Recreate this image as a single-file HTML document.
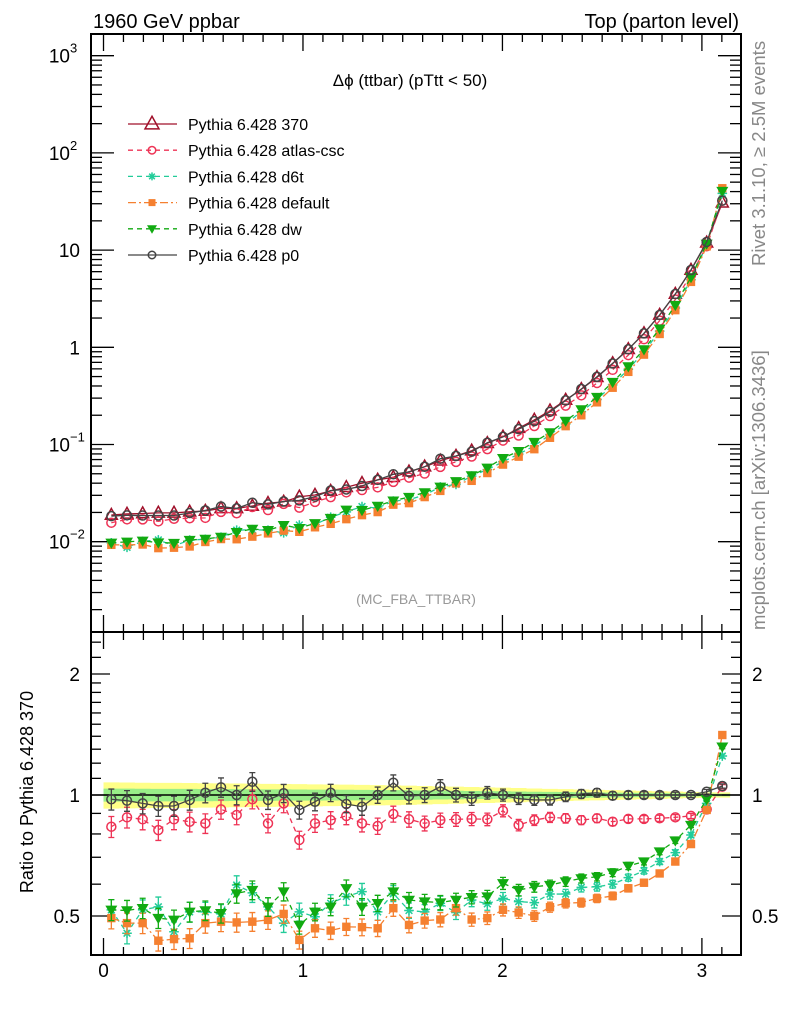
<!DOCTYPE html>
<html><head><meta charset="utf-8"><style>
body{margin:0;background:#fff;}
svg{display:block;font-family:"Liberation Sans",sans-serif;}
</style></head><body>
<svg id="chart" width="786" height="1024" viewBox="0 0 786 1024">
<text x="93" y="28" font-size="20">1960 GeV ppbar</text>
<text x="739" y="28" font-size="20" text-anchor="end">Top (parton level)</text>
<text x="410" y="86" font-size="17" text-anchor="middle">Δϕ (ttbar) (pTtt &lt; 50)</text>
<text x="416" y="604" font-size="14" fill="#999" text-anchor="middle">(MC_FBA_TTBAR)</text>
<text transform="translate(765,266) rotate(-90)" font-size="18.5" fill="#888">Rivet 3.1.10, ≥ 2.5M events</text>
<text transform="translate(765,630) rotate(-90)" font-size="18.5" fill="#888">mcplots.cern.ch [arXiv:1306.3436]</text>
<text transform="translate(33,792) rotate(-90)" font-size="18" text-anchor="middle">Ratio to Pythia 6.428 370</text>
<g id="band"></g>
<g id="ticks"></g>
<g id="series"></g>
<g id="legend"></g>
<rect x="91" y="34" width="650" height="598" fill="none" stroke="#000" stroke-width="2"/>
<rect x="91" y="632" width="650" height="323" fill="none" stroke="#000" stroke-width="2"/>
</svg>
<script>
const NS="http://www.w3.org/2000/svg";
const nBins=40;
const binLabels=["0","1","2","3"];
const refValues=[0.0188,0.0193,0.0195,0.0198,0.0198,0.0203,0.0207,0.0220,0.0220,0.0233,0.0249,0.0257,0.0290,0.0302,0.0332,0.0363,0.0400,0.0433,0.0460,0.0525,0.0591,0.068,0.0762,0.0863,0.103,0.120,0.147,0.179,0.223,0.287,0.370,0.491,0.684,0.954,1.39,2.15,3.53,6.24,11.9,30.7];
const ratioP0=[0.976,0.968,0.953,0.939,0.939,0.972,1.013,1.045,1.0,1.079,0.972,1.01,0.918,0.962,1.013,0.95,0.935,1.0,1.073,0.994,1.0,1.049,1.0,0.979,1.013,1.0,0.979,0.972,0.972,0.99,1.006,1.013,0.996,1.0,1.0,1.0,1.0,1.0,1.019,1.053];
const ratioAtlas=[0.834,0.880,0.870,0.818,0.870,0.858,0.850,0.921,0.892,0.976,0.850,0.953,0.773,0.850,0.866,0.887,0.850,0.837,0.897,0.870,0.850,0.866,0.870,0.872,0.870,0.914,0.842,0.866,0.880,0.875,0.866,0.875,0.858,0.872,0.872,0.875,0.880,0.887,0.921,1.049];
const ratioD6t=[0.518,0.453,0.518,0.527,0.457,0.512,0.512,0.506,0.597,0.571,0.527,0.480,0.512,0.498,0.538,0.559,0.575,0.512,0.569,0.516,0.512,0.538,0.510,0.548,0.536,0.553,0.543,0.540,0.567,0.567,0.589,0.591,0.600,0.623,0.648,0.683,0.719,0.795,0.953,1.250];
const ratioDefault=[0.494,0.480,0.480,0.434,0.438,0.440,0.480,0.484,0.482,0.484,0.489,0.506,0.436,0.466,0.460,0.470,0.469,0.466,0.523,0.475,0.487,0.490,0.523,0.490,0.494,0.518,0.510,0.500,0.526,0.538,0.540,0.553,0.561,0.586,0.605,0.638,0.683,0.755,0.918,1.410];
const ratioDw=[0.518,0.516,0.523,0.494,0.489,0.512,0.516,0.508,0.569,0.580,0.527,0.575,0.475,0.512,0.527,0.586,0.527,0.538,0.575,0.548,0.543,0.540,0.548,0.557,0.559,0.603,0.580,0.591,0.597,0.609,0.620,0.626,0.641,0.666,0.683,0.723,0.770,0.842,0.976,1.319];
const refRelErr=[0.075,0.074,0.073,0.072,0.072,0.071,0.070,0.069,0.068,0.067,0.066,0.065,0.064,0.063,0.062,0.061,0.060,0.058,0.057,0.055,0.053,0.051,0.049,0.047,0.045,0.043,0.041,0.038,0.036,0.034,0.032,0.030,0.028,0.026,0.024,0.022,0.020,0.018,0.016,0.015];
const xMin=-0.0627,xMax=3.196;
function X(v){return 91+(v-xMin)/(xMax-xMin)*650;}
function Ym(v){return 347.3-Math.log10(v)*97.2;}
function Yr(r){return 795-Math.log2(r)*121;}
function binX(i){return (i+0.5)*Math.PI/nBins;}
function mk(tag,attrs,parent){const e=document.createElementNS(NS,tag);for(const k in attrs)e.setAttribute(k,attrs[k]);parent.appendChild(e);return e;}
const gT=document.getElementById('ticks'),gS=document.getElementById('series'),gB=document.getElementById('band'),gL=document.getElementById('legend');
for(let k=0;k<=31;k++){const v=k/10;const x=X(v);const maj=k%10===0;
 for(const [y0,d] of [[632,-1],[955,-1],[34,1],[632,1]]){
  const t=mk('line',{x1:x,x2:x,y1:y0,y2:y0+d*(maj?17:8),stroke:'#000','stroke-width':1.3},gT);
  
  
 }
 if(maj){const l=mk('text',{x:x,y:977,'font-size':19,'text-anchor':'middle'},gT);l.textContent=binLabels[k/10];
  
  }
}
const decLabels={"-2":["10","−2"],"-1":["10","−1"],"0":["1",""],"1":["10",""],"2":["10","2"],"3":["10","3"]};
for(let d=-3;d<=3;d++){for(let m=1;m<=9;m++){const v=m*Math.pow(10,d);const y=Ym(v);if(y<35||y>631)continue;const maj=m===1;
 for(const [x0,s] of [[91,1],[741,-1]]){const t=mk('line',{x1:x0,x2:x0+s*(maj?23:11),y1:y,y2:y,stroke:'#000','stroke-width':1.3},gT);
  
  }
 if(maj){const lab=decLabels[String(d)];const t=mk('text',{x:lab[1]?70:80,y:y+7,'font-size':19,'text-anchor':'end'},gT);t.textContent=lab[0];
  
  
  if(lab[1]){const s=mk('text',{x:70,y:y-3,'font-size':13},gT);s.textContent=lab[1];
   
   }}
}}
const rTicks=[0.5,0.6,0.7,0.8,0.9,1,1.1,1.2,1.3,1.4,1.5,1.6,1.7,1.8,1.9,2,2.2,2.4];
const rLabels={"0.5":"0.5","1":"1","2":"2"};
rTicks.forEach(r=>{const y=Yr(r);const maj=(r===0.5||r===1||r===2);
 for(const [x0,s] of [[91,1],[741,-1]]){const t=mk('line',{x1:x0,x2:x0+s*(maj?19:10),y1:y,y2:y,stroke:'#000','stroke-width':1.3},gT);
  
  }
 if(maj){for(const [x,a] of [[80,'end'],[752,'start']]){const t=mk('text',{x:x,y:y+7,'font-size':19,'text-anchor':a},gT);t.textContent=rLabels[String(r)];
  
  }}
});
let py='',pg='';
for(let i=0;i<nBins;i++){const x1=X(i*Math.PI/nBins),x2=X((i+1)*Math.PI/nBins);const e=refRelErr[i];
 py+=`M${x1},${Yr(1+e)}H${x2}V${Yr(1-e)}H${x1}Z`;pg+=`M${x1},${Yr(1+e/2)}H${x2}V${Yr(1-e/2)}H${x1}Z`;}
const b1=mk('path',{d:py,fill:'#ffff88'},gB);
const b2=mk('path',{d:pg,fill:'#99ee88'},gB);
const unity=mk('line',{x1:91,x2:741,y1:Yr(1),y2:Yr(1),stroke:'#000','stroke-width':1.5},gB);
const series=[
 {name:'Pythia 6.428 370',key:'370',ratio:null,color:'#a0102a',dash:'',marker:'tri'},
 {name:'Pythia 6.428 atlas-csc',key:'atlas-csc',ratio:ratioAtlas,color:'#ee3355',dash:'5,4',marker:'circ'},
 {name:'Pythia 6.428 d6t',key:'d6t',ratio:ratioD6t,color:'#22cc99',dash:'5,4',marker:'star'},
 {name:'Pythia 6.428 default',key:'default',ratio:ratioDefault,color:'#f58030',dash:'8,3,2,3',marker:'sq'},
 {name:'Pythia 6.428 dw',key:'dw',ratio:ratioDw,color:'#11aa11',dash:'5,4',marker:'dtri'},
 {name:'Pythia 6.428 p0',key:'p0',ratio:ratioP0,color:'#444444',dash:'',marker:'circ'}
];
function marker(type,x,y,c,g,sz){let e;
 if(type==='tri')e=mk('path',{d:`M${x},${y-sz*1.1}L${x+sz},${y+sz*0.7}L${x-sz},${y+sz*0.7}Z`,fill:'none',stroke:c,'stroke-width':1.5},g);
 else if(type==='dtri')e=mk('path',{d:`M${x-sz},${y-sz*0.7}L${x+sz},${y-sz*0.7}L${x},${y+sz}Z`,fill:c},g);
 else if(type==='circ')e=mk('circle',{cx:x,cy:y,r:sz*0.75,fill:'none',stroke:c,'stroke-width':1.5},g);
 else if(type==='sq')e=mk('rect',{x:x-sz*0.7,y:y-sz*0.7,width:sz*1.4,height:sz*1.4,fill:c},g);
 else {const s=sz*0.8;e=mk('path',{d:`M${x-s},${y}H${x+s}M${x},${y-s}V${y+s}M${x-s*0.7},${y-s*0.7}L${x+s*0.7},${y+s*0.7}M${x-s*0.7},${y+s*0.7}L${x+s*0.7},${y-s*0.7}`,stroke:c,'stroke-width':1.5},g);}
 return e;}
series.forEach((s,si)=>{
 const g=mk('g',{},gS);
 
 
 const mainPts=[],ratPts=[];
 for(let i=0;i<nBins;i++){const r=s.ratio?s.ratio[i]:1;const v=refValues[i]*r;mainPts.push([X(binX(i)),Ym(v)]);ratPts.push([X(binX(i)),Yr(r)]);}
 const attrs={fill:'none',stroke:s.color,'stroke-width':1.3};if(s.dash)attrs['stroke-dasharray']=s.dash;
 const l1=mk('polyline',Object.assign({points:mainPts.map(p=>p.join(',')).join(' ')},attrs),g);
 
 
 if(s.ratio){const l2=mk('polyline',Object.assign({points:ratPts.map(p=>p.join(',')).join(' ')},attrs),g);
  
  }
 mainPts.forEach(p=>{const m=marker(s.marker,p[0],p[1],s.color,g,6);
  
  });
 if(s.ratio)ratPts.forEach((p,i)=>{const e=refRelErr[i]*0.8;
  const eb=mk('path',{d:`M${p[0]},${Yr(s.ratio[i]*(1+e))}V${Yr(s.ratio[i]*(1-e))}M${p[0]-3},${Yr(s.ratio[i]*(1+e))}h6M${p[0]-3},${Yr(s.ratio[i]*(1-e))}h6`,stroke:s.color,'stroke-width':1.3},g);
  
  
  const m=marker(s.marker,p[0],p[1],s.color,g,6);
  
  });
 const ly=124+si*26.2;
 const lg=mk('g',{},gL);
 
 
 const la={x1:128,x2:177,y1:ly,y2:ly,stroke:s.color,'stroke-width':1.3};if(s.dash)la['stroke-dasharray']=s.dash;
 mk('line',la,lg);
 const lm=marker(s.marker,152,ly,s.color,lg,si===0?7:5);
 
 
 const t=mk('text',{x:188,y:ly+6,'font-size':16},lg);t.textContent=s.name;
 
 
});
</script>
</body></html>
